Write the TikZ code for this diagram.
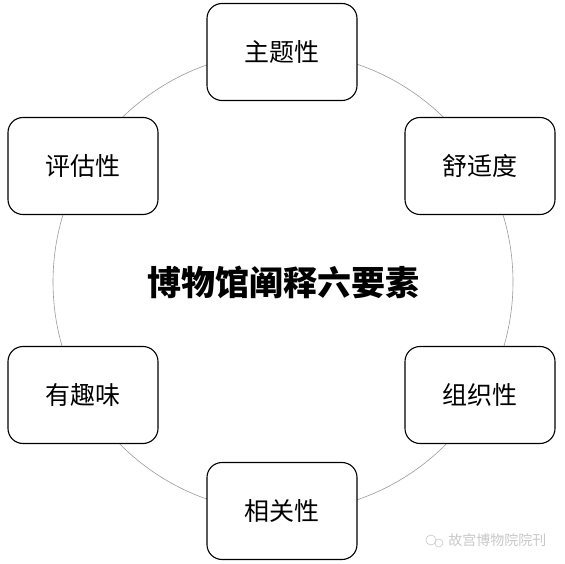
\documentclass[tikz,border=0pt]{standalone}
\usepackage{fontspec}
\newfontfamily\cjk{Noto Sans CJK SC}
\usetikzlibrary{positioning}

\definecolor{ringGray}{HTML}{9a9a9a}
\definecolor{markGray}{HTML}{c8c8c8}

\begin{document}
\begin{tikzpicture}[x=1pt, y=-1pt,
    elem/.style={draw=black, line width=1.1pt, fill=white, rounded corners=15pt,
      minimum width=150pt, minimum height=97pt, font=\cjk\fontsize{25}{28}\selectfont},
    title/.style={font=\cjk\bfseries\fontsize{34}{38}\selectfont}]
    \useasboundingbox (0,0) rectangle (565,564);

    % ring
    \coordinate (center) at (283,282);
    \draw[ringGray, line width=0.6pt] (center) circle (230pt);

    % six elements
    \node[elem] (zhuti) at (282,52) {主题性};
    \node[elem] (shushi) at (480,166) {舒适度};
    \node[elem] (zuzhi) at (480,395) {组织性};
    \node[elem] (xiangguan) at (282,511) {相关性};
    \node[elem] (youqu) at (83,395) {有趣味};
    \node[elem] (pinggu) at (83,166) {评估性};

    % centre title
    \node[title] (biaoti) at (center) {博物馆阐释六要素};

    % watermark
    \node[font=\cjk\fontsize{14}{16}\selectfont, text=markGray, anchor=east] (shuiyin) at (550,540) {故宫博物院院刊};
    \draw[markGray, line width=0.6pt] ([xshift=-14pt]shuiyin.west) circle (5pt);
    \draw[markGray, line width=0.6pt] ([xshift=-6pt,yshift=-3pt]shuiyin.west) circle (4pt);
  \end{tikzpicture}
\end{document}
